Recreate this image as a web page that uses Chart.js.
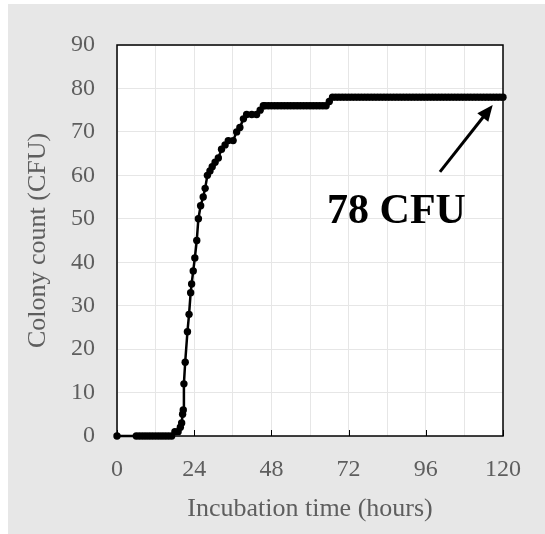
<!DOCTYPE html>
<html><head><meta charset="utf-8">
<script src="https://cdn.jsdelivr.net/npm/chart.js@4.4.1/dist/chart.umd.min.js"></script>
<style>html,body{margin:0;padding:0;background:#fff;}</style>
</head><body>
<canvas id="c" width="545" height="534"></canvas>
<script>
// ---- data ----
const timeHours = [0,6,7,8,9,10,11,12,13,14,15,16,17,
  18,19,19.7,20.1,20.4,20.6,20.8,21.2,21.9,22.4,22.9,23.2,23.7,24.2,24.8,25.3,26,26.8,27.4,28.1,28.9,29.6,30.5,31.5,32.5,33.6,34.6,36.1,37.2,38.2,39.3,40.3,41.9,43.4,44.5,45.5,
  46,47,48,49,50,51,52,53,54,55,56,57,58,59,60,61,62,63,64,65,
  66,
  67,68,69,70,71,72,73,74,75,76,77,78,79,80,81,82,83,84,85,86,87,88,89,90,91,92,93,94,95,96,97,98,99,100,101,102,103,104,105,106,107,108,109,110,111,112,113,114,115,116,117,118,119,120];
const colonyCount = [0,0,0,0,0,0,0,0,0,0,0,0,0,
  1,1,2,3,5,6,12,17,24,28,33,35,38,41,45,50,53,55,57,60,61,62,63,64,66,67,68,68,70,71,73,74,74,74,75,76,
  76,76,76,76,76,76,76,76,76,76,76,76,76,76,76,76,76,76,76,76,
  77,
  78,78,78,78,78,78,78,78,78,78,78,78,78,78,78,78,78,78,78,78,78,78,78,78,78,78,78,78,78,78,78,78,78,78,78,78,78,78,78,78,78,78,78,78,78,78,78,78,78,78,78,78,78,78];
const xTickLabels = [0,24,48,72,96,120];
const yTickLabels = [0,10,20,30,40,50,60,70,80,90];
const xTitle = 'Incubation time (hours)';
const yTitle = 'Colony count (CFU)';
const annotationText = '78 CFU';

const points = timeHours.map((t,i)=>({x:t, y:colonyCount[i]}));
const SERIF = '"Liberation Serif", "Times New Roman", serif';
const LABEL = '#5e5e5e';

const framePlugin = {
  id:'frame',
  beforeDraw(chart){
    const {ctx, chartArea:a} = chart;
    ctx.save();
    ctx.fillStyle='#fff'; ctx.fillRect(0,0,chart.width,chart.height);
    ctx.fillStyle='#e7e7e7'; ctx.fillRect(8,4,chart.width-8,chart.height-4);
    ctx.fillStyle='#fff'; ctx.fillRect(a.left,a.top,a.right-a.left,a.bottom-a.top);
    ctx.restore();
  },
  beforeDatasetsDraw(chart){
    const {ctx, chartArea:a, scales:{x}} = chart;
    ctx.save();
    ctx.strokeStyle='#000'; ctx.lineWidth=1.5;
    ctx.strokeRect(a.left,a.top,a.right-a.left,a.bottom-a.top);
    ctx.lineWidth=1;
    xTickLabels.forEach(v=>{
      const px=Math.round(x.getPixelForValue(v))+0.5;
      ctx.beginPath(); ctx.moveTo(px,a.bottom); ctx.lineTo(px,a.bottom-6); ctx.stroke();
    });
    ctx.restore();
  },
  afterDraw(chart){
    const {ctx, scales:{x,y}} = chart;
    const o = chart.options.plugins.frame;
    ctx.save();
    ctx.fillStyle='#000';
    ctx.font='bold 42px '+SERIF;
    ctx.textAlign='left'; ctx.textBaseline='alphabetic';
    ctx.fillText(annotationText, x.getPixelForValue(o.textAt.x), y.getPixelForValue(o.textAt.y));
    const x0=x.getPixelForValue(o.arrowFrom.x), y0=y.getPixelForValue(o.arrowFrom.y);
    const x1=x.getPixelForValue(o.arrowTo.x), y1=y.getPixelForValue(o.arrowTo.y);
    const ang=Math.atan2(y1-y0,x1-x0), hl=16, hw=7;
    const bx=x1-hl*Math.cos(ang), by=y1-hl*Math.sin(ang);
    ctx.strokeStyle='#000'; ctx.lineWidth=3;
    ctx.beginPath(); ctx.moveTo(x0,y0); ctx.lineTo(bx+2*Math.cos(ang),by+2*Math.sin(ang)); ctx.stroke();
    ctx.beginPath();
    ctx.moveTo(x1,y1);
    ctx.lineTo(bx+hw*Math.sin(ang), by-hw*Math.cos(ang));
    ctx.lineTo(bx-hw*Math.sin(ang), by+hw*Math.cos(ang));
    ctx.closePath(); ctx.fill();
    ctx.restore();
  }
};

new Chart(document.getElementById('c'), {
  type:'scatter',
  data:{datasets:[{
    data:points, showLine:true, borderColor:'#000', borderWidth:2.5,
    pointRadius:3.7, pointBackgroundColor:'#000', pointBorderWidth:0,
    pointHoverRadius:3.7, tension:0, clip:false
  }]},
  options:{
    responsive:false, animation:false, events:[],
    layout:{padding:{left:0, top:45, right:42, bottom:0}},
    plugins:{legend:{display:false}, tooltip:{enabled:false},
      frame:{textAt:{x:65.3,y:49.1}, arrowFrom:{x:100.4,y:60.8}, arrowTo:{x:116.8,y:76.2}}},
    scales:{
      x:{type:'linear', min:0, max:120,
        afterFit(s){ s.height=98; },
        border:{display:false},
        grid:{color:'#e6e6e6', lineWidth:1, drawTicks:false},
        ticks:{stepSize:12, autoSkip:false, maxRotation:0, padding:19, color:LABEL,
          font:{family:SERIF, size:24},
          callback:v=> xTickLabels.includes(v) ? String(v) : ''},
        title:{display:true, text:xTitle, color:LABEL, font:{family:SERIF, size:26}, padding:{top:0,bottom:9}}
      },
      y:{type:'linear', min:0, max:90,
        afterFit(s){ s.width=117; },
        border:{display:false},
        grid:{color:'#e6e6e6', lineWidth:1, drawTicks:false},
        afterBuildTicks(s){ s.ticks = yTickLabels.map(v=>({value:v})); },
        ticks:{padding:22, color:LABEL, font:{family:SERIF, size:24}},
        title:{display:true, text:yTitle, color:LABEL, font:{family:SERIF, size:26}, padding:{top:23,bottom:0}}
      }
    }
  },
  plugins:[framePlugin]
});
</script>
</body></html>
